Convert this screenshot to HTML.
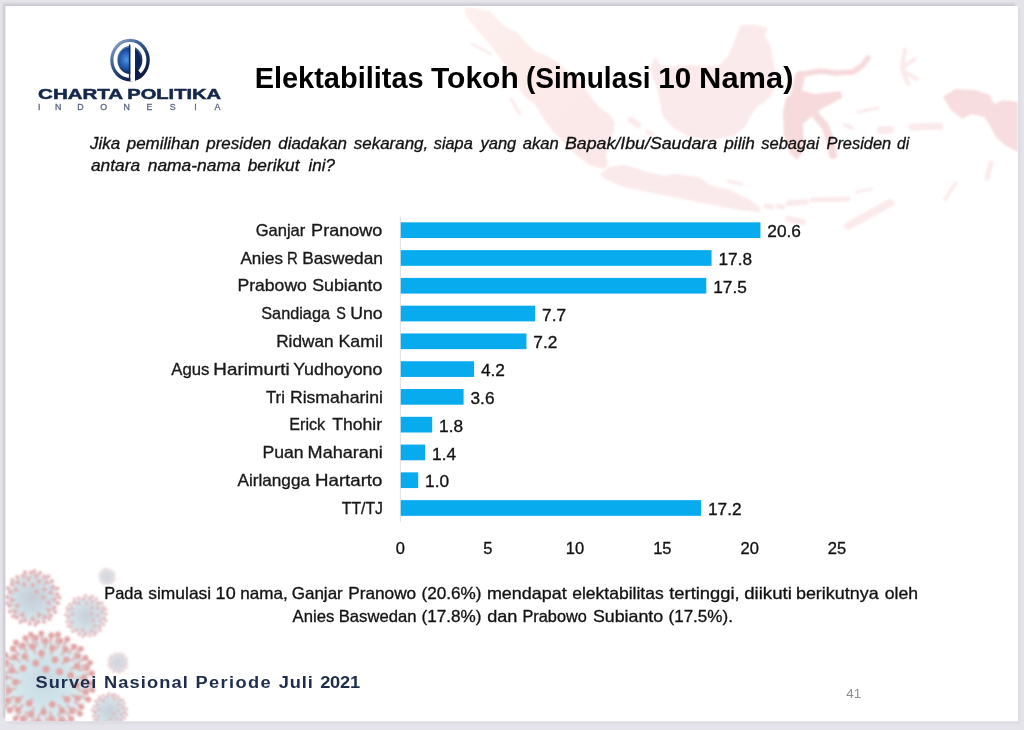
<!DOCTYPE html>
<html lang="id">
<head>
<meta charset="utf-8">
<title>Elektabilitas Tokoh (Simulasi 10 Nama)</title>
<style>
html,body{margin:0;padding:0;background:#e5e4ea;overflow:hidden}
svg{display:block;font-family:"Liberation Sans", sans-serif}
.t{stroke:#151515;stroke-width:0.32px}
</style>
</head>
<body>
<svg width="1024" height="730" viewBox="0 0 1024 730">
<defs>
<filter id="b1" x="-5%" y="-5%" width="110%" height="110%"><feGaussianBlur stdDeviation="0.9"/></filter>
<filter id="b2" x="-5%" y="-5%" width="110%" height="110%"><feGaussianBlur stdDeviation="0.8"/></filter>
<filter id="b3" x="-20%" y="-20%" width="140%" height="140%"><feGaussianBlur stdDeviation="0.85"/></filter>
<linearGradient id="lg1" x1="0.1" y1="0" x2="0.85" y2="1"><stop offset="0" stop-color="#9db4cf"/><stop offset="0.35" stop-color="#3f6296"/><stop offset="0.7" stop-color="#14295a"/><stop offset="1" stop-color="#091534"/></linearGradient>
<radialGradient id="lg2" cx="0.38" cy="0.5" r="0.62"><stop offset="0" stop-color="#4f95e6"/><stop offset="0.55" stop-color="#1f58ae"/><stop offset="1" stop-color="#0c2660"/></radialGradient>
<radialGradient id="vg1" cx="0.5" cy="0.5" r="0.5"><stop offset="0" stop-color="#bcc3cf"/><stop offset="0.55" stop-color="#c3d3dd"/><stop offset="1" stop-color="#cfe6ec"/></radialGradient>
<radialGradient id="vg2" cx="0.5" cy="0.5" r="0.5"><stop offset="0" stop-color="#c2d3de"/><stop offset="0.6" stop-color="#cbe2ea"/><stop offset="1" stop-color="#d6ebf0"/></radialGradient>
<linearGradient id="sumg" gradientUnits="userSpaceOnUse" x1="465" y1="10" x2="605" y2="165"><stop offset="0" stop-color="#fdf1ee"/><stop offset="0.45" stop-color="#fcebe9"/><stop offset="1" stop-color="#fbe7e8"/></linearGradient>
<clipPath id="slide"><rect x="5.4" y="6" width="1012.7" height="715.2"/></clipPath>
</defs>
<rect x="0" y="0" width="1024" height="730" fill="#e5e4ea"/>
<rect x="8" y="8" width="1012.6" height="716" fill="#dcdbe1" filter="url(#b1)"/>
<rect x="3.1" y="3.3" width="1012" height="714" fill="#cbcad0" filter="url(#b1)"/>
<rect x="5.4" y="6" width="1012.7" height="715.2" fill="#fff"/>
<g id="map" fill="#fbeaeb" filter="url(#b2)" clip-path="url(#slide)">
<path d="M464,8 L475,8 L490,11.5 L498,20 L505,26.5 L518,33 L526,43 L535,51.5 L548,56.5 L558,63 L568,71.5 L578,80 L586,90 L593,100 L600,108 L610,115 L615,123 L613,133 L608,145 L606,156 L608,165 L603,169 L590,165 L578,156.5 L566,145 L553,131.5 L543,118 L535,104 L526,98 L518,86.5 L511.5,75 L505,65 L498,55 L490,45 L481.5,35 L473,25 L466.5,16.5Z" fill="url(#sumg)"/>
<path d="M472,44 L491,54" fill="none" stroke="#fbeaeb" stroke-width="2.5" stroke-linecap="round" stroke-linejoin="round"/>
<path d="M497,78 L503,88" fill="none" stroke="#fbeaeb" stroke-width="2.5" stroke-linecap="round" stroke-linejoin="round"/>
<path d="M511,99 L520,114" fill="none" stroke="#fbeaeb" stroke-width="3" stroke-linecap="round" stroke-linejoin="round"/>
<path d="M631,120 L638,125" fill="none" stroke="#fbeaeb" stroke-width="6" stroke-linecap="round" stroke-linejoin="round"/>
<path d="M648,132 L652,134" fill="none" stroke="#fbeaeb" stroke-width="4" stroke-linecap="round" stroke-linejoin="round"/>
<path d="M600,175 L607.5,167.5 L625,165 L650,172.5 L665,176 L675,173.75 L700,177.5 L710,185 L730,190 L750,200 L760,207.5 L760,212.5 L740,210 L725,207.5 L700,202.5 L675,197.5 L650,192.5 L625,187.5 L607.5,180Z"/>
<path d="M728,181 L742,184" fill="none" stroke="#fbeaeb" stroke-width="3" stroke-linecap="round" stroke-linejoin="round"/>
<path d="M766,206 L772,207" fill="none" stroke="#fbeaeb" stroke-width="5" stroke-linecap="round" stroke-linejoin="round"/>
<path d="M778,206 L783,207" fill="none" stroke="#fbeaeb" stroke-width="5" stroke-linecap="round" stroke-linejoin="round"/>
<path d="M789,203 L806,202" fill="none" stroke="#fbeaeb" stroke-width="6" stroke-linecap="round" stroke-linejoin="round"/>
<path d="M812,200 L848,199" fill="none" stroke="#fbeaeb" stroke-width="5" stroke-linecap="round" stroke-linejoin="round"/>
<path d="M788,219 L803,222" fill="none" stroke="#fbeaeb" stroke-width="6" stroke-linecap="round" stroke-linejoin="round"/>
<path d="M890,203 L848,226" fill="none" stroke="#fbeaeb" stroke-width="8" stroke-linecap="round" stroke-linejoin="round"/>
<path d="M856,192 L872,189" fill="none" stroke="#fbeaeb" stroke-width="2.5" stroke-linecap="round" stroke-linejoin="round"/>
<path d="M655,56.5 L650,70 L656.5,86.5 L660,101 L662,115 L673,128 L688,136 L705,140 L720,139 L735,135 L745,127 L749.5,118 L756,108 L769.5,98 L776,85 L776,71.5 L773,61.5 L771,48 L764.5,35 L768,28 L756,25 L741,25 L738,31.5 L733,45 L728,56.5 L719.5,65 L706.5,66.5 L690,65 L673,66.5 L660,65Z"/>
<path d="M799,75 L820,71 L836,73 L853,72 L863,65 L868,58" fill="none" stroke="#f7dadc" stroke-width="5.5" stroke-linecap="round" stroke-linejoin="round"/>
<path d="M800,76 L795,98" fill="none" stroke="#f7dadc" stroke-width="10" stroke-linecap="round" stroke-linejoin="round"/>
<path d="M786,98 L800,90 L815,94 L841,91 L842,98 L823,108 L812,116 L803,124 L804,150 L797,160 L789,152 L784,135 L783,112Z" fill="#f7dadc"/>
<path d="M813,112 L825,126 L830,140 L833,155" fill="none" stroke="#f7dadc" stroke-width="8" stroke-linecap="round" stroke-linejoin="round"/>
<path d="M905,50 L902,68 L908,84" fill="none" stroke="#fbeaeb" stroke-width="4.5" stroke-linecap="round" stroke-linejoin="round"/>
<path d="M903,67 L915,59" fill="none" stroke="#fbeaeb" stroke-width="4" stroke-linecap="round" stroke-linejoin="round"/>
<path d="M905,72 L917,79" fill="none" stroke="#fbeaeb" stroke-width="4" stroke-linecap="round" stroke-linejoin="round"/>
<path d="M881,130 L890,130" fill="none" stroke="#fbeaeb" stroke-width="8" stroke-linecap="round" stroke-linejoin="round"/>
<path d="M912,127 L940,126" fill="none" stroke="#fbeaeb" stroke-width="7" stroke-linecap="round" stroke-linejoin="round"/>
<path d="M858,112 L878,108" fill="none" stroke="#fbeaeb" stroke-width="3" stroke-linecap="round" stroke-linejoin="round"/>
<path d="M845,125 L852,128" fill="none" stroke="#fbeaeb" stroke-width="4" stroke-linecap="round" stroke-linejoin="round"/>
<path d="M943,97 L955,89 L975,90 L990,95 L994,104 L1003,100 L1018,102 L1018,152 L1006,146 L996,137 L989,124 L984,117 L972,114 L962,119 L951,110Z" fill="#f7dddf"/>
<path d="M956,183 L945,199" fill="none" stroke="#fbeaeb" stroke-width="3.5" stroke-linecap="round" stroke-linejoin="round"/>
<path d="M991,163 L987,178" fill="none" stroke="#fbeaeb" stroke-width="5" stroke-linecap="round" stroke-linejoin="round"/>
</g>
<g id="virus" clip-path="url(#slide)" filter="url(#b3)">
<g opacity="0.88">
<circle cx="45" cy="681" r="46.5" fill="#e3e4ea" opacity="0.55"/>
<circle cx="45" cy="681" r="40.0" fill="url(#vg2)"/>
<circle cx="46.0" cy="669.3" r="3.6" fill="#dd9a99"/>
<circle cx="59.6" cy="671.7" r="3.6" fill="#dd9a99"/>
<circle cx="35.8" cy="663.2" r="3.6" fill="#dd9a99"/>
<circle cx="55.0" cy="659.7" r="3.5" fill="#dd9a99"/>
<circle cx="52.3" cy="704.4" r="3.5" fill="#dd9a99"/>
<circle cx="23.0" cy="668.2" r="3.5" fill="#dd9a99"/>
<circle cx="70.8" cy="675.3" r="3.5" fill="#dd9a99"/>
<path d="M32.1,699.4 L29.3,703.3" stroke="#d6b5b8" stroke-width="3.1" stroke-linecap="round"/>
<circle cx="29.3" cy="703.3" r="3.5" fill="#dd9a99"/>
<path d="M42.0,658.0 L41.4,653.2" stroke="#d6b5b8" stroke-width="3.1" stroke-linecap="round"/>
<circle cx="41.4" cy="653.2" r="3.5" fill="#dd9a99"/>
<path d="M63.2,696.3 L67.1,699.6" stroke="#d6b5b8" stroke-width="3.1" stroke-linecap="round"/>
<circle cx="67.1" cy="699.6" r="3.5" fill="#dd9a99"/>
<path d="M20.6,682.0 L15.4,682.2" stroke="#d6b5b8" stroke-width="3.1" stroke-linecap="round"/>
<circle cx="15.4" cy="682.2" r="3.5" fill="#dd9a99"/>
<path d="M62.8,663.3 L66.5,659.6" stroke="#d6b5b8" stroke-width="3.1" stroke-linecap="round"/>
<circle cx="66.5" cy="659.6" r="3.4" fill="#dd9a99"/>
<path d="M43.8,706.6 L43.6,712.0" stroke="#d6b5b8" stroke-width="3.1" stroke-linecap="round"/>
<circle cx="43.6" cy="712.0" r="3.4" fill="#dd9a99"/>
<path d="M28.2,660.9 L24.7,656.6" stroke="#d6b5b8" stroke-width="3.1" stroke-linecap="round"/>
<circle cx="24.7" cy="656.6" r="3.4" fill="#dd9a99"/>
<path d="M71.5,684.6 L77.1,685.3" stroke="#d6b5b8" stroke-width="3.1" stroke-linecap="round"/>
<circle cx="77.1" cy="685.3" r="3.4" fill="#dd9a99"/>
<path d="M22.6,696.6 L17.9,699.9" stroke="#d6b5b8" stroke-width="3.1" stroke-linecap="round"/>
<circle cx="17.9" cy="699.9" r="3.4" fill="#dd9a99"/>
<path d="M51.1,653.9 L52.4,648.2" stroke="#d6b5b8" stroke-width="3.1" stroke-linecap="round"/>
<circle cx="52.4" cy="648.2" r="3.4" fill="#dd9a99"/>
<path d="M59.0,705.5 L62.0,710.7" stroke="#d6b5b8" stroke-width="3.1" stroke-linecap="round"/>
<circle cx="62.0" cy="710.7" r="3.4" fill="#dd9a99"/>
<path d="M17.7,672.3 L11.8,670.4" stroke="#d6b5b8" stroke-width="3.0" stroke-linecap="round"/>
<circle cx="11.8" cy="670.4" r="3.4" fill="#dd9a99"/>
<path d="M71.5,668.8 L77.1,666.2" stroke="#d6b5b8" stroke-width="3.0" stroke-linecap="round"/>
<circle cx="77.1" cy="666.2" r="3.4" fill="#dd9a99"/>
<path d="M33.6,708.3 L31.1,714.1" stroke="#d6b5b8" stroke-width="3.0" stroke-linecap="round"/>
<circle cx="31.1" cy="714.1" r="3.4" fill="#dd9a99"/>
<path d="M34.8,652.7 L32.7,646.7" stroke="#d6b5b8" stroke-width="3.0" stroke-linecap="round"/>
<circle cx="32.7" cy="646.7" r="3.4" fill="#dd9a99"/>
<path d="M71.9,695.2 L77.7,698.2" stroke="#d6b5b8" stroke-width="3.0" stroke-linecap="round"/>
<circle cx="77.7" cy="698.2" r="3.3" fill="#dd9a99"/>
<path d="M15.2,688.9 L8.8,690.5" stroke="#d6b5b8" stroke-width="3.0" stroke-linecap="round"/>
<circle cx="8.8" cy="690.5" r="3.3" fill="#dd9a99"/>
<path d="M61.9,654.7 L65.5,649.2" stroke="#d6b5b8" stroke-width="3.0" stroke-linecap="round"/>
<circle cx="65.5" cy="649.2" r="3.3" fill="#dd9a99"/>
<path d="M50.4,712.1 L51.5,718.8" stroke="#d6b5b8" stroke-width="3.0" stroke-linecap="round"/>
<circle cx="51.5" cy="718.8" r="3.3" fill="#dd9a99"/>
<path d="M19.7,661.4 L14.4,657.3" stroke="#d6b5b8" stroke-width="3.0" stroke-linecap="round"/>
<circle cx="14.4" cy="657.3" r="3.3" fill="#dd9a99"/>
<path d="M77.2,678.3 L84.1,677.8" stroke="#d6b5b8" stroke-width="3.0" stroke-linecap="round"/>
<circle cx="84.1" cy="677.8" r="3.3" fill="#dd9a99"/>
<path d="M22.8,705.0 L18.1,710.1" stroke="#d6b5b8" stroke-width="3.0" stroke-linecap="round"/>
<circle cx="18.1" cy="710.1" r="3.3" fill="#dd9a99"/>
<path d="M45.2,648.0 L45.2,641.0" stroke="#d6b5b8" stroke-width="2.9" stroke-linecap="round"/>
<circle cx="45.2" cy="641.0" r="3.3" fill="#dd9a99"/>
<path d="M67.4,705.7 L72.1,710.9" stroke="#d6b5b8" stroke-width="2.9" stroke-linecap="round"/>
<circle cx="72.1" cy="710.9" r="3.3" fill="#dd9a99"/>
<path d="M11.5,677.9 L4.4,677.2" stroke="#d6b5b8" stroke-width="2.9" stroke-linecap="round"/>
<circle cx="4.4" cy="677.2" r="3.3" fill="#dd9a99"/>
<path d="M72.0,660.5 L77.8,656.1" stroke="#d6b5b8" stroke-width="2.9" stroke-linecap="round"/>
<circle cx="77.8" cy="656.1" r="3.2" fill="#dd9a99"/>
<path d="M38.9,714.7 L37.6,721.8" stroke="#d6b5b8" stroke-width="2.9" stroke-linecap="round"/>
<circle cx="37.6" cy="721.8" r="3.2" fill="#dd9a99"/>
<path d="M26.6,651.8 L22.7,645.6" stroke="#d6b5b8" stroke-width="2.9" stroke-linecap="round"/>
<circle cx="22.7" cy="645.6" r="3.2" fill="#dd9a99"/>
<path d="M78.5,690.2 L85.7,692.1" stroke="#d6b5b8" stroke-width="2.9" stroke-linecap="round"/>
<circle cx="85.7" cy="692.1" r="3.2" fill="#dd9a99"/>
<path d="M13.8,697.0 L7.2,700.4" stroke="#d6b5b8" stroke-width="2.9" stroke-linecap="round"/>
<circle cx="7.2" cy="700.4" r="3.2" fill="#dd9a99"/>
<path d="M57.3,647.9 L59.9,640.9" stroke="#d6b5b8" stroke-width="2.9" stroke-linecap="round"/>
<circle cx="59.9" cy="640.9" r="3.2" fill="#dd9a99"/>
<path d="M58.4,713.9 L61.3,720.9" stroke="#d6b5b8" stroke-width="2.9" stroke-linecap="round"/>
<circle cx="61.3" cy="720.9" r="3.2" fill="#dd9a99"/>
<path d="M12.7,665.7 L5.8,662.4" stroke="#d6b5b8" stroke-width="2.9" stroke-linecap="round"/>
<circle cx="5.8" cy="662.4" r="3.2" fill="#dd9a99"/>
<path d="M79.4,670.4 L86.7,668.1" stroke="#d6b5b8" stroke-width="2.8" stroke-linecap="round"/>
<circle cx="86.7" cy="668.1" r="3.2" fill="#dd9a99"/>
<path d="M26.7,712.3 L22.8,718.9" stroke="#d6b5b8" stroke-width="2.8" stroke-linecap="round"/>
<circle cx="22.8" cy="718.9" r="3.2" fill="#dd9a99"/>
<path d="M37.3,645.3 L35.7,637.8" stroke="#d6b5b8" stroke-width="2.8" stroke-linecap="round"/>
<circle cx="35.7" cy="637.8" r="3.1" fill="#dd9a99"/>
<path d="M74.9,702.2 L81.3,706.8" stroke="#d6b5b8" stroke-width="2.8" stroke-linecap="round"/>
<circle cx="81.3" cy="706.8" r="3.1" fill="#dd9a99"/>
<path d="M8.4,685.6 L0.6,686.5" stroke="#d6b5b8" stroke-width="2.8" stroke-linecap="round"/>
<circle cx="0.6" cy="686.5" r="3.1" fill="#dd9a99"/>
<path d="M69.0,652.8 L74.1,646.8" stroke="#d6b5b8" stroke-width="2.8" stroke-linecap="round"/>
<circle cx="74.1" cy="646.8" r="3.1" fill="#dd9a99"/>
<path d="M46.4,718.2 L46.6,726.2" stroke="#d6b5b8" stroke-width="2.8" stroke-linecap="round"/>
<circle cx="46.6" cy="726.2" r="3.1" fill="#dd9a99"/>
<path d="M18.7,654.3 L13.1,648.7" stroke="#d6b5b8" stroke-width="2.8" stroke-linecap="round"/>
<circle cx="13.1" cy="648.7" r="3.1" fill="#dd9a99"/>
<path d="M82.6,682.9 L90.6,683.3" stroke="#d6b5b8" stroke-width="2.8" stroke-linecap="round"/>
<circle cx="90.6" cy="683.3" r="3.1" fill="#dd9a99"/>
<path d="M15.9,705.1 L9.7,710.2" stroke="#d6b5b8" stroke-width="2.8" stroke-linecap="round"/>
<circle cx="9.7" cy="710.2" r="3.1" fill="#dd9a99"/>
<path d="M50.2,643.4 L51.4,635.4" stroke="#d6b5b8" stroke-width="2.8" stroke-linecap="round"/>
<circle cx="51.4" cy="635.4" r="3.1" fill="#dd9a99"/>
<path d="M66.6,712.4 L71.2,719.1" stroke="#d6b5b8" stroke-width="2.7" stroke-linecap="round"/>
<circle cx="71.2" cy="719.1" r="3.1" fill="#dd9a99"/>
<path d="M7.7,672.4 L-0.2,670.6" stroke="#d6b5b8" stroke-width="2.7" stroke-linecap="round"/>
<circle cx="-0.2" cy="670.6" r="3.0" fill="#dd9a99"/>
<path d="M78.4,662.1 L85.5,658.0" stroke="#d6b5b8" stroke-width="2.7" stroke-linecap="round"/>
<circle cx="85.5" cy="658.0" r="3.0" fill="#dd9a99"/>
<path d="M33.1,717.7 L30.6,725.4" stroke="#d6b5b8" stroke-width="2.7" stroke-linecap="round"/>
<circle cx="30.6" cy="725.4" r="3.0" fill="#dd9a99"/>
<path d="M29.0,645.8 L25.5,638.3" stroke="#d6b5b8" stroke-width="2.7" stroke-linecap="round"/>
<circle cx="25.5" cy="638.3" r="3.0" fill="#dd9a99"/>
<path d="M80.7,696.1 L88.3,699.4" stroke="#d6b5b8" stroke-width="2.7" stroke-linecap="round"/>
<circle cx="88.3" cy="699.4" r="3.0" fill="#dd9a99"/>
<path d="M8.3,694.0 L0.5,696.7" stroke="#d6b5b8" stroke-width="2.7" stroke-linecap="round"/>
<circle cx="0.5" cy="696.7" r="3.0" fill="#dd9a99"/>
<path d="M63.3,646.6 L67.2,639.2" stroke="#d6b5b8" stroke-width="2.7" stroke-linecap="round"/>
<circle cx="67.2" cy="639.2" r="3.0" fill="#dd9a99"/>
<path d="M54.8,718.9 L56.9,726.9" stroke="#d6b5b8" stroke-width="2.7" stroke-linecap="round"/>
<circle cx="56.9" cy="726.9" r="3.0" fill="#dd9a99"/>
<path d="M12.1,659.6 L5.1,655.1" stroke="#d6b5b8" stroke-width="2.7" stroke-linecap="round"/>
<circle cx="5.1" cy="655.1" r="3.0" fill="#dd9a99"/>
<path d="M83.8,674.5 L92.0,673.2" stroke="#d6b5b8" stroke-width="2.7" stroke-linecap="round"/>
<circle cx="92.0" cy="673.2" r="3.0" fill="#dd9a99"/>
<path d="M20.7,712.0 L15.6,718.6" stroke="#d6b5b8" stroke-width="2.7" stroke-linecap="round"/>
<circle cx="15.6" cy="718.6" r="2.9" fill="#dd9a99"/>
<path d="M41.9,641.6 L41.3,633.3" stroke="#d6b5b8" stroke-width="2.6" stroke-linecap="round"/>
<circle cx="41.3" cy="633.3" r="2.9" fill="#dd9a99"/>
<path d="M73.9,708.0 L80.0,713.7" stroke="#d6b5b8" stroke-width="2.6" stroke-linecap="round"/>
<circle cx="80.0" cy="713.7" r="2.9" fill="#dd9a99"/>
<path d="M5.4,680.6 L-3.0,680.5" stroke="#d6b5b8" stroke-width="2.6" stroke-linecap="round"/>
<circle cx="-3.0" cy="680.5" r="2.9" fill="#dd9a99"/>
<path d="M74.5,654.5 L80.8,648.8" stroke="#d6b5b8" stroke-width="2.6" stroke-linecap="round"/>
<circle cx="80.8" cy="648.8" r="2.9" fill="#dd9a99"/>
<path d="M41.1,720.6 L40.3,729.0" stroke="#d6b5b8" stroke-width="2.6" stroke-linecap="round"/>
<circle cx="40.3" cy="729.0" r="2.9" fill="#dd9a99"/>
<path d="M21.1,649.2 L16.0,642.4" stroke="#d6b5b8" stroke-width="2.6" stroke-linecap="round"/>
<circle cx="16.0" cy="642.4" r="2.9" fill="#dd9a99"/>
<path d="M84.2,688.3 L92.5,689.9" stroke="#d6b5b8" stroke-width="2.6" stroke-linecap="round"/>
<circle cx="92.5" cy="689.9" r="2.9" fill="#dd9a99"/>
<path d="M11.1,702.1 L3.9,706.6" stroke="#d6b5b8" stroke-width="2.6" stroke-linecap="round"/>
<circle cx="3.9" cy="706.6" r="2.9" fill="#dd9a99"/>
<path d="M55.7,642.6 L58.0,634.4" stroke="#d6b5b8" stroke-width="2.6" stroke-linecap="round"/>
<circle cx="58.0" cy="634.4" r="2.9" fill="#dd9a99"/>
<path d="M63.1,716.6 L66.9,724.2" stroke="#d6b5b8" stroke-width="2.6" stroke-linecap="round"/>
<circle cx="66.9" cy="724.2" r="2.8" fill="#dd9a99"/>
<path d="M7.6,666.9 L-0.4,663.9" stroke="#d6b5b8" stroke-width="2.6" stroke-linecap="round"/>
<circle cx="-0.4" cy="663.9" r="2.8" fill="#dd9a99"/>
<path d="M82.1,666.1 L90.0,662.9" stroke="#d6b5b8" stroke-width="2.5" stroke-linecap="round"/>
<circle cx="90.0" cy="662.9" r="2.8" fill="#dd9a99"/>
<path d="M27.7,717.1 L24.0,724.7" stroke="#d6b5b8" stroke-width="2.5" stroke-linecap="round"/>
<circle cx="24.0" cy="724.7" r="2.8" fill="#dd9a99"/>
<path d="M33.4,642.7 L30.9,634.6" stroke="#d6b5b8" stroke-width="2.5" stroke-linecap="round"/>
<circle cx="30.9" cy="634.6" r="2.8" fill="#dd9a99"/>
</g>
<g opacity="0.85">
<circle cx="32.5" cy="598" r="26.0" fill="#ead9dd" opacity="0.55"/>
<circle cx="32.5" cy="598" r="22.4" fill="url(#vg1)"/>
<circle cx="36.7" cy="591.7" r="2.3" fill="#dba0a4"/>
<circle cx="43.5" cy="597.3" r="2.3" fill="#dba0a4"/>
<circle cx="32.8" cy="585.2" r="2.2" fill="#dba0a4"/>
<circle cx="44.5" cy="589.2" r="2.2" fill="#dba0a4"/>
<path d="M25.6,586.6 L24.1,584.2" stroke="#cdbcc4" stroke-width="2.0" stroke-linecap="round"/>
<circle cx="24.1" cy="584.2" r="2.2" fill="#dba0a4"/>
<path d="M45.7,601.9 L48.5,602.7" stroke="#cdbcc4" stroke-width="2.0" stroke-linecap="round"/>
<circle cx="48.5" cy="602.7" r="2.2" fill="#dba0a4"/>
<path d="M19.8,604.3 L17.1,605.6" stroke="#cdbcc4" stroke-width="2.0" stroke-linecap="round"/>
<circle cx="17.1" cy="605.6" r="2.2" fill="#dba0a4"/>
<path d="M37.8,584.4 L38.9,581.5" stroke="#cdbcc4" stroke-width="2.0" stroke-linecap="round"/>
<circle cx="38.9" cy="581.5" r="2.2" fill="#dba0a4"/>
<path d="M37.9,612.0 L39.1,615.0" stroke="#cdbcc4" stroke-width="2.0" stroke-linecap="round"/>
<circle cx="39.1" cy="615.0" r="2.2" fill="#dba0a4"/>
<path d="M18.7,591.2 L15.8,589.7" stroke="#cdbcc4" stroke-width="1.9" stroke-linecap="round"/>
<circle cx="15.8" cy="589.7" r="2.2" fill="#dba0a4"/>
<path d="M47.6,593.6 L50.8,592.7" stroke="#cdbcc4" stroke-width="1.9" stroke-linecap="round"/>
<circle cx="50.8" cy="592.7" r="2.2" fill="#dba0a4"/>
<path d="M24.1,611.8 L22.4,614.7" stroke="#cdbcc4" stroke-width="1.9" stroke-linecap="round"/>
<circle cx="22.4" cy="614.7" r="2.2" fill="#dba0a4"/>
<path d="M29.3,581.9 L28.6,578.5" stroke="#cdbcc4" stroke-width="1.9" stroke-linecap="round"/>
<circle cx="28.6" cy="578.5" r="2.1" fill="#dba0a4"/>
<path d="M46.0,607.9 L48.9,610.0" stroke="#cdbcc4" stroke-width="1.9" stroke-linecap="round"/>
<circle cx="48.9" cy="610.0" r="2.1" fill="#dba0a4"/>
<path d="M15.5,599.8 L11.9,600.2" stroke="#cdbcc4" stroke-width="1.9" stroke-linecap="round"/>
<circle cx="11.9" cy="600.2" r="2.1" fill="#dba0a4"/>
<path d="M44.0,585.0 L46.4,582.2" stroke="#cdbcc4" stroke-width="1.9" stroke-linecap="round"/>
<circle cx="46.4" cy="582.2" r="2.1" fill="#dba0a4"/>
<path d="M32.9,615.6 L32.9,619.4" stroke="#cdbcc4" stroke-width="1.9" stroke-linecap="round"/>
<circle cx="32.9" cy="619.4" r="2.1" fill="#dba0a4"/>
<path d="M20.1,585.1 L17.5,582.3" stroke="#cdbcc4" stroke-width="1.9" stroke-linecap="round"/>
<circle cx="17.5" cy="582.3" r="2.1" fill="#dba0a4"/>
<path d="M50.6,599.2 L54.5,599.5" stroke="#cdbcc4" stroke-width="1.9" stroke-linecap="round"/>
<circle cx="54.5" cy="599.5" r="2.1" fill="#dba0a4"/>
<path d="M18.1,609.5 L15.1,611.9" stroke="#cdbcc4" stroke-width="1.9" stroke-linecap="round"/>
<circle cx="15.1" cy="611.9" r="2.1" fill="#dba0a4"/>
<path d="M35.4,579.6 L36.0,575.7" stroke="#cdbcc4" stroke-width="1.9" stroke-linecap="round"/>
<circle cx="36.0" cy="575.7" r="2.1" fill="#dba0a4"/>
<path d="M42.9,613.7 L45.2,617.0" stroke="#cdbcc4" stroke-width="1.9" stroke-linecap="round"/>
<circle cx="45.2" cy="617.0" r="2.1" fill="#dba0a4"/>
<path d="M14.0,593.4 L10.0,592.4" stroke="#cdbcc4" stroke-width="1.9" stroke-linecap="round"/>
<circle cx="10.0" cy="592.4" r="2.1" fill="#dba0a4"/>
<path d="M49.4,588.8 L53.0,586.8" stroke="#cdbcc4" stroke-width="1.8" stroke-linecap="round"/>
<circle cx="53.0" cy="586.8" r="2.1" fill="#dba0a4"/>
<path d="M26.2,616.4 L24.8,620.4" stroke="#cdbcc4" stroke-width="1.8" stroke-linecap="round"/>
<circle cx="24.8" cy="620.4" r="2.0" fill="#dba0a4"/>
<path d="M24.6,580.0 L22.9,576.1" stroke="#cdbcc4" stroke-width="1.8" stroke-linecap="round"/>
<circle cx="22.9" cy="576.1" r="2.0" fill="#dba0a4"/>
<path d="M50.7,606.1 L54.5,607.8" stroke="#cdbcc4" stroke-width="1.8" stroke-linecap="round"/>
<circle cx="54.5" cy="607.8" r="2.0" fill="#dba0a4"/>
<path d="M13.5,604.4 L9.4,605.7" stroke="#cdbcc4" stroke-width="1.8" stroke-linecap="round"/>
<circle cx="9.4" cy="605.7" r="2.0" fill="#dba0a4"/>
<path d="M42.3,580.3 L44.4,576.5" stroke="#cdbcc4" stroke-width="1.8" stroke-linecap="round"/>
<circle cx="44.4" cy="576.5" r="2.0" fill="#dba0a4"/>
<path d="M37.3,617.8 L38.3,622.0" stroke="#cdbcc4" stroke-width="1.8" stroke-linecap="round"/>
<circle cx="38.3" cy="622.0" r="2.0" fill="#dba0a4"/>
<path d="M15.5,586.5 L11.8,584.1" stroke="#cdbcc4" stroke-width="1.8" stroke-linecap="round"/>
<circle cx="11.8" cy="584.1" r="2.0" fill="#dba0a4"/>
<path d="M53.0,594.9 L57.3,594.3" stroke="#cdbcc4" stroke-width="1.8" stroke-linecap="round"/>
<circle cx="57.3" cy="594.3" r="2.0" fill="#dba0a4"/>
<path d="M19.4,614.2 L16.6,617.6" stroke="#cdbcc4" stroke-width="1.8" stroke-linecap="round"/>
<circle cx="16.6" cy="617.6" r="2.0" fill="#dba0a4"/>
<path d="M31.2,577.1 L30.9,572.6" stroke="#cdbcc4" stroke-width="1.8" stroke-linecap="round"/>
<circle cx="30.9" cy="572.6" r="2.0" fill="#dba0a4"/>
<path d="M47.7,612.6 L50.9,615.8" stroke="#cdbcc4" stroke-width="1.8" stroke-linecap="round"/>
<circle cx="50.9" cy="615.8" r="2.0" fill="#dba0a4"/>
<path d="M11.3,597.5 L6.8,597.3" stroke="#cdbcc4" stroke-width="1.8" stroke-linecap="round"/>
<circle cx="6.8" cy="597.3" r="2.0" fill="#dba0a4"/>
<path d="M48.6,584.0 L52.0,581.0" stroke="#cdbcc4" stroke-width="1.8" stroke-linecap="round"/>
<circle cx="52.0" cy="581.0" r="1.9" fill="#dba0a4"/>
<path d="M30.1,619.3 L29.6,623.8" stroke="#cdbcc4" stroke-width="1.7" stroke-linecap="round"/>
<circle cx="29.6" cy="623.8" r="1.9" fill="#dba0a4"/>
<path d="M19.8,580.6 L17.1,576.9" stroke="#cdbcc4" stroke-width="1.7" stroke-linecap="round"/>
<circle cx="17.1" cy="576.9" r="1.9" fill="#dba0a4"/>
<path d="M53.7,602.3 L58.2,603.2" stroke="#cdbcc4" stroke-width="1.7" stroke-linecap="round"/>
<circle cx="58.2" cy="603.2" r="1.9" fill="#dba0a4"/>
<path d="M13.9,609.2 L9.9,611.6" stroke="#cdbcc4" stroke-width="1.7" stroke-linecap="round"/>
<circle cx="9.9" cy="611.6" r="1.9" fill="#dba0a4"/>
<path d="M38.7,577.1 L40.0,572.6" stroke="#cdbcc4" stroke-width="1.7" stroke-linecap="round"/>
<circle cx="40.0" cy="572.6" r="1.9" fill="#dba0a4"/>
<path d="M42.1,617.7 L44.1,621.9" stroke="#cdbcc4" stroke-width="1.7" stroke-linecap="round"/>
<circle cx="44.1" cy="621.9" r="1.9" fill="#dba0a4"/>
<path d="M12.1,589.9 L7.7,588.2" stroke="#cdbcc4" stroke-width="1.7" stroke-linecap="round"/>
<circle cx="7.7" cy="588.2" r="1.9" fill="#dba0a4"/>
<path d="M53.1,590.1 L57.5,588.4" stroke="#cdbcc4" stroke-width="1.7" stroke-linecap="round"/>
<circle cx="57.5" cy="588.4" r="1.9" fill="#dba0a4"/>
<path d="M22.6,617.8 L20.5,622.0" stroke="#cdbcc4" stroke-width="1.7" stroke-linecap="round"/>
<circle cx="20.5" cy="622.0" r="1.9" fill="#dba0a4"/>
<path d="M26.4,576.7 L25.1,572.2" stroke="#cdbcc4" stroke-width="1.7" stroke-linecap="round"/>
<circle cx="25.1" cy="572.2" r="1.9" fill="#dba0a4"/>
<path d="M51.4,609.6 L55.4,612.1" stroke="#cdbcc4" stroke-width="1.7" stroke-linecap="round"/>
<circle cx="55.4" cy="612.1" r="1.9" fill="#dba0a4"/>
<path d="M10.7,602.2 L6.0,603.1" stroke="#cdbcc4" stroke-width="1.7" stroke-linecap="round"/>
<circle cx="6.0" cy="603.1" r="1.8" fill="#dba0a4"/>
<path d="M45.8,580.1 L48.6,576.3" stroke="#cdbcc4" stroke-width="1.7" stroke-linecap="round"/>
<circle cx="48.6" cy="576.3" r="1.8" fill="#dba0a4"/>
<path d="M34.8,620.2 L35.3,624.9" stroke="#cdbcc4" stroke-width="1.6" stroke-linecap="round"/>
<circle cx="35.3" cy="624.9" r="1.8" fill="#dba0a4"/>
<path d="M15.8,583.2 L12.2,580.0" stroke="#cdbcc4" stroke-width="1.6" stroke-linecap="round"/>
<circle cx="12.2" cy="580.0" r="1.8" fill="#dba0a4"/>
<path d="M54.9,597.7 L59.6,597.6" stroke="#cdbcc4" stroke-width="1.6" stroke-linecap="round"/>
<circle cx="59.6" cy="597.6" r="1.8" fill="#dba0a4"/>
<path d="M16.2,613.4 L12.8,616.6" stroke="#cdbcc4" stroke-width="1.6" stroke-linecap="round"/>
<circle cx="12.8" cy="616.6" r="1.8" fill="#dba0a4"/>
<path d="M34.1,575.7 L34.5,570.9" stroke="#cdbcc4" stroke-width="1.6" stroke-linecap="round"/>
<circle cx="34.5" cy="570.9" r="1.8" fill="#dba0a4"/>
<path d="M46.4,615.6 L49.4,619.3" stroke="#cdbcc4" stroke-width="1.6" stroke-linecap="round"/>
<circle cx="49.4" cy="619.3" r="1.8" fill="#dba0a4"/>
</g>
<g opacity="0.8">
<circle cx="86" cy="616" r="20.0" fill="#ead9dd" opacity="0.55"/>
<circle cx="86" cy="616" r="17.2" fill="url(#vg1)"/>
<circle cx="91.6" cy="613.7" r="1.8" fill="#dba0a4"/>
<circle cx="93.6" cy="620.5" r="1.7" fill="#dba0a4"/>
<circle cx="92.0" cy="607.7" r="1.7" fill="#dba0a4"/>
<path d="M95.9,615.7 L98.0,615.6" stroke="#cdbcc4" stroke-width="1.5" stroke-linecap="round"/>
<circle cx="98.0" cy="615.6" r="1.7" fill="#dba0a4"/>
<path d="M86.6,605.3 L86.7,603.1" stroke="#cdbcc4" stroke-width="1.5" stroke-linecap="round"/>
<circle cx="86.7" cy="603.1" r="1.7" fill="#dba0a4"/>
<path d="M93.0,624.5 L94.5,626.3" stroke="#cdbcc4" stroke-width="1.5" stroke-linecap="round"/>
<circle cx="94.5" cy="626.3" r="1.7" fill="#dba0a4"/>
<path d="M74.7,614.4 L72.3,614.0" stroke="#cdbcc4" stroke-width="1.5" stroke-linecap="round"/>
<circle cx="72.3" cy="614.0" r="1.7" fill="#dba0a4"/>
<path d="M95.7,609.4 L97.7,608.0" stroke="#cdbcc4" stroke-width="1.5" stroke-linecap="round"/>
<circle cx="97.7" cy="608.0" r="1.7" fill="#dba0a4"/>
<path d="M83.3,627.7 L82.7,630.2" stroke="#cdbcc4" stroke-width="1.5" stroke-linecap="round"/>
<circle cx="82.7" cy="630.2" r="1.7" fill="#dba0a4"/>
<path d="M80.0,605.3 L78.7,603.0" stroke="#cdbcc4" stroke-width="1.5" stroke-linecap="round"/>
<circle cx="78.7" cy="603.0" r="1.7" fill="#dba0a4"/>
<path d="M98.0,619.9 L100.5,620.8" stroke="#cdbcc4" stroke-width="1.5" stroke-linecap="round"/>
<circle cx="100.5" cy="620.8" r="1.6" fill="#dba0a4"/>
<path d="M74.3,621.3 L71.8,622.4" stroke="#cdbcc4" stroke-width="1.5" stroke-linecap="round"/>
<circle cx="71.8" cy="622.4" r="1.6" fill="#dba0a4"/>
<path d="M91.2,603.9 L92.3,601.4" stroke="#cdbcc4" stroke-width="1.5" stroke-linecap="round"/>
<circle cx="92.3" cy="601.4" r="1.6" fill="#dba0a4"/>
<path d="M90.4,628.6 L91.4,631.3" stroke="#cdbcc4" stroke-width="1.5" stroke-linecap="round"/>
<circle cx="91.4" cy="631.3" r="1.6" fill="#dba0a4"/>
<path d="M74.0,609.6 L71.5,608.2" stroke="#cdbcc4" stroke-width="1.5" stroke-linecap="round"/>
<circle cx="71.5" cy="608.2" r="1.6" fill="#dba0a4"/>
<path d="M99.4,612.6 L102.2,611.9" stroke="#cdbcc4" stroke-width="1.4" stroke-linecap="round"/>
<circle cx="102.2" cy="611.9" r="1.6" fill="#dba0a4"/>
<path d="M78.3,627.7 L76.7,630.2" stroke="#cdbcc4" stroke-width="1.4" stroke-linecap="round"/>
<circle cx="76.7" cy="630.2" r="1.6" fill="#dba0a4"/>
<path d="M83.7,601.9 L83.2,599.0" stroke="#cdbcc4" stroke-width="1.4" stroke-linecap="round"/>
<circle cx="83.2" cy="599.0" r="1.6" fill="#dba0a4"/>
<path d="M97.3,624.9 L99.8,626.8" stroke="#cdbcc4" stroke-width="1.4" stroke-linecap="round"/>
<circle cx="99.8" cy="626.8" r="1.6" fill="#dba0a4"/>
<path d="M71.4,617.1 L68.3,617.3" stroke="#cdbcc4" stroke-width="1.4" stroke-linecap="round"/>
<circle cx="68.3" cy="617.3" r="1.6" fill="#dba0a4"/>
<path d="M96.1,605.2 L98.3,602.9" stroke="#cdbcc4" stroke-width="1.4" stroke-linecap="round"/>
<circle cx="98.3" cy="602.9" r="1.6" fill="#dba0a4"/>
<path d="M85.8,631.0 L85.8,634.2" stroke="#cdbcc4" stroke-width="1.4" stroke-linecap="round"/>
<circle cx="85.8" cy="634.2" r="1.6" fill="#dba0a4"/>
<path d="M75.9,604.7 L73.8,602.3" stroke="#cdbcc4" stroke-width="1.4" stroke-linecap="round"/>
<circle cx="73.8" cy="602.3" r="1.6" fill="#dba0a4"/>
<path d="M101.2,617.5 L104.5,617.9" stroke="#cdbcc4" stroke-width="1.4" stroke-linecap="round"/>
<circle cx="104.5" cy="617.9" r="1.6" fill="#dba0a4"/>
<path d="M73.6,625.2 L71.0,627.2" stroke="#cdbcc4" stroke-width="1.4" stroke-linecap="round"/>
<circle cx="71.0" cy="627.2" r="1.5" fill="#dba0a4"/>
<path d="M88.9,600.7 L89.5,597.4" stroke="#cdbcc4" stroke-width="1.4" stroke-linecap="round"/>
<circle cx="89.5" cy="597.4" r="1.5" fill="#dba0a4"/>
<path d="M94.3,629.4 L96.0,632.2" stroke="#cdbcc4" stroke-width="1.4" stroke-linecap="round"/>
<circle cx="96.0" cy="632.2" r="1.5" fill="#dba0a4"/>
<path d="M70.7,611.7 L67.5,610.8" stroke="#cdbcc4" stroke-width="1.4" stroke-linecap="round"/>
<circle cx="67.5" cy="610.8" r="1.5" fill="#dba0a4"/>
<path d="M100.3,608.8 L103.3,607.3" stroke="#cdbcc4" stroke-width="1.4" stroke-linecap="round"/>
<circle cx="103.3" cy="607.3" r="1.5" fill="#dba0a4"/>
<path d="M80.3,631.0 L79.1,634.2" stroke="#cdbcc4" stroke-width="1.4" stroke-linecap="round"/>
<circle cx="79.1" cy="634.2" r="1.5" fill="#dba0a4"/>
<path d="M80.0,600.9 L78.7,597.7" stroke="#cdbcc4" stroke-width="1.4" stroke-linecap="round"/>
<circle cx="78.7" cy="597.7" r="1.5" fill="#dba0a4"/>
<path d="M100.7,623.1 L103.8,624.6" stroke="#cdbcc4" stroke-width="1.3" stroke-linecap="round"/>
<circle cx="103.8" cy="624.6" r="1.5" fill="#dba0a4"/>
<path d="M70.3,620.7 L67.0,621.7" stroke="#cdbcc4" stroke-width="1.3" stroke-linecap="round"/>
<circle cx="67.0" cy="621.7" r="1.5" fill="#dba0a4"/>
<path d="M94.5,601.8 L96.3,598.8" stroke="#cdbcc4" stroke-width="1.3" stroke-linecap="round"/>
<circle cx="96.3" cy="598.8" r="1.5" fill="#dba0a4"/>
<path d="M89.3,632.2 L90.1,635.7" stroke="#cdbcc4" stroke-width="1.3" stroke-linecap="round"/>
<circle cx="90.1" cy="635.7" r="1.5" fill="#dba0a4"/>
<path d="M72.5,606.2 L69.6,604.2" stroke="#cdbcc4" stroke-width="1.3" stroke-linecap="round"/>
<circle cx="69.6" cy="604.2" r="1.5" fill="#dba0a4"/>
<path d="M102.6,614.1 L106.1,613.7" stroke="#cdbcc4" stroke-width="1.3" stroke-linecap="round"/>
<circle cx="106.1" cy="613.7" r="1.5" fill="#dba0a4"/>
<path d="M75.0,628.7 L72.7,631.4" stroke="#cdbcc4" stroke-width="1.3" stroke-linecap="round"/>
<circle cx="72.7" cy="631.4" r="1.5" fill="#dba0a4"/>
<path d="M85.5,599.1 L85.4,595.6" stroke="#cdbcc4" stroke-width="1.3" stroke-linecap="round"/>
<circle cx="85.4" cy="595.6" r="1.5" fill="#dba0a4"/>
<path d="M97.8,628.1 L100.3,630.7" stroke="#cdbcc4" stroke-width="1.3" stroke-linecap="round"/>
<circle cx="100.3" cy="630.7" r="1.4" fill="#dba0a4"/>
<path d="M69.1,615.0 L65.5,614.8" stroke="#cdbcc4" stroke-width="1.3" stroke-linecap="round"/>
<circle cx="65.5" cy="614.8" r="1.4" fill="#dba0a4"/>
<path d="M99.2,605.3 L102.0,603.0" stroke="#cdbcc4" stroke-width="1.3" stroke-linecap="round"/>
<circle cx="102.0" cy="603.0" r="1.4" fill="#dba0a4"/>
<path d="M83.5,632.9 L83.0,636.5" stroke="#cdbcc4" stroke-width="1.3" stroke-linecap="round"/>
<circle cx="83.0" cy="636.5" r="1.4" fill="#dba0a4"/>
<path d="M76.4,601.8 L74.4,598.8" stroke="#cdbcc4" stroke-width="1.3" stroke-linecap="round"/>
<circle cx="74.4" cy="598.8" r="1.4" fill="#dba0a4"/>
<path d="M102.7,620.0 L106.2,620.8" stroke="#cdbcc4" stroke-width="1.3" stroke-linecap="round"/>
<circle cx="106.2" cy="620.8" r="1.4" fill="#dba0a4"/>
<path d="M71.0,624.3 L67.8,626.1" stroke="#cdbcc4" stroke-width="1.3" stroke-linecap="round"/>
<circle cx="67.8" cy="626.1" r="1.4" fill="#dba0a4"/>
<path d="M91.4,599.7 L92.6,596.3" stroke="#cdbcc4" stroke-width="1.3" stroke-linecap="round"/>
<circle cx="92.6" cy="596.3" r="1.4" fill="#dba0a4"/>
<path d="M93.0,631.7 L94.5,635.0" stroke="#cdbcc4" stroke-width="1.2" stroke-linecap="round"/>
<circle cx="94.5" cy="635.0" r="1.4" fill="#dba0a4"/>
<path d="M70.2,609.2 L66.9,607.7" stroke="#cdbcc4" stroke-width="1.2" stroke-linecap="round"/>
<circle cx="66.9" cy="607.7" r="1.4" fill="#dba0a4"/>
<path d="M102.3,610.4 L105.7,609.2" stroke="#cdbcc4" stroke-width="1.2" stroke-linecap="round"/>
<circle cx="105.7" cy="609.2" r="1.4" fill="#dba0a4"/>
</g>
<g opacity="0.82">
<circle cx="109.6" cy="711" r="16.9" fill="#ead9dd" opacity="0.55"/>
<circle cx="109.6" cy="711" r="14.6" fill="url(#vg1)"/>
<circle cx="114.3" cy="713.7" r="1.5" fill="#dba0a4"/>
<circle cx="110.7" cy="718.8" r="1.5" fill="#dba0a4"/>
<circle cx="118.7" cy="710.5" r="1.5" fill="#dba0a4"/>
<path d="M115.3,717.7 L116.5,719.1" stroke="#cdbcc4" stroke-width="1.3" stroke-linecap="round"/>
<circle cx="116.5" cy="719.1" r="1.5" fill="#dba0a4"/>
<path d="M100.5,709.9 L98.6,709.6" stroke="#cdbcc4" stroke-width="1.3" stroke-linecap="round"/>
<circle cx="98.6" cy="709.6" r="1.5" fill="#dba0a4"/>
<path d="M117.3,705.5 L119.0,704.4" stroke="#cdbcc4" stroke-width="1.3" stroke-linecap="round"/>
<circle cx="119.0" cy="704.4" r="1.5" fill="#dba0a4"/>
<path d="M107.5,720.6 L107.1,722.6" stroke="#cdbcc4" stroke-width="1.3" stroke-linecap="round"/>
<circle cx="107.1" cy="722.6" r="1.5" fill="#dba0a4"/>
<path d="M104.5,702.3 L103.4,700.4" stroke="#cdbcc4" stroke-width="1.3" stroke-linecap="round"/>
<circle cx="103.4" cy="700.4" r="1.5" fill="#dba0a4"/>
<path d="M119.5,714.1 L121.6,714.7" stroke="#cdbcc4" stroke-width="1.3" stroke-linecap="round"/>
<circle cx="121.6" cy="714.7" r="1.5" fill="#dba0a4"/>
<path d="M100.0,715.5 L97.9,716.5" stroke="#cdbcc4" stroke-width="1.3" stroke-linecap="round"/>
<circle cx="97.9" cy="716.5" r="1.4" fill="#dba0a4"/>
<path d="M113.7,700.9 L114.6,698.8" stroke="#cdbcc4" stroke-width="1.3" stroke-linecap="round"/>
<circle cx="114.6" cy="698.8" r="1.4" fill="#dba0a4"/>
<path d="M113.5,721.4 L114.3,723.7" stroke="#cdbcc4" stroke-width="1.3" stroke-linecap="round"/>
<circle cx="114.3" cy="723.7" r="1.4" fill="#dba0a4"/>
<path d="M99.5,705.8 L97.3,704.7" stroke="#cdbcc4" stroke-width="1.3" stroke-linecap="round"/>
<circle cx="97.3" cy="704.7" r="1.4" fill="#dba0a4"/>
<path d="M120.8,708.0 L123.2,707.3" stroke="#cdbcc4" stroke-width="1.3" stroke-linecap="round"/>
<circle cx="123.2" cy="707.3" r="1.4" fill="#dba0a4"/>
<path d="M103.3,721.0 L102.0,723.1" stroke="#cdbcc4" stroke-width="1.3" stroke-linecap="round"/>
<circle cx="102.0" cy="723.1" r="1.4" fill="#dba0a4"/>
<path d="M107.5,699.2 L107.0,696.7" stroke="#cdbcc4" stroke-width="1.3" stroke-linecap="round"/>
<circle cx="107.0" cy="696.7" r="1.4" fill="#dba0a4"/>
<path d="M119.3,718.4 L121.4,719.9" stroke="#cdbcc4" stroke-width="1.3" stroke-linecap="round"/>
<circle cx="121.4" cy="719.9" r="1.4" fill="#dba0a4"/>
<path d="M97.3,712.1 L94.7,712.4" stroke="#cdbcc4" stroke-width="1.3" stroke-linecap="round"/>
<circle cx="94.7" cy="712.4" r="1.4" fill="#dba0a4"/>
<path d="M118.0,701.7 L119.8,699.8" stroke="#cdbcc4" stroke-width="1.2" stroke-linecap="round"/>
<circle cx="119.8" cy="699.8" r="1.4" fill="#dba0a4"/>
<path d="M109.6,723.7 L109.7,726.4" stroke="#cdbcc4" stroke-width="1.2" stroke-linecap="round"/>
<circle cx="109.7" cy="726.4" r="1.4" fill="#dba0a4"/>
<path d="M100.9,701.6 L99.0,699.6" stroke="#cdbcc4" stroke-width="1.2" stroke-linecap="round"/>
<circle cx="99.0" cy="699.6" r="1.4" fill="#dba0a4"/>
<path d="M122.5,712.1 L125.3,712.3" stroke="#cdbcc4" stroke-width="1.2" stroke-linecap="round"/>
<circle cx="125.3" cy="712.3" r="1.4" fill="#dba0a4"/>
<path d="M99.2,719.0 L97.0,720.7" stroke="#cdbcc4" stroke-width="1.2" stroke-linecap="round"/>
<circle cx="97.0" cy="720.7" r="1.4" fill="#dba0a4"/>
<path d="M111.9,697.9 L112.3,695.2" stroke="#cdbcc4" stroke-width="1.2" stroke-linecap="round"/>
<circle cx="112.3" cy="695.2" r="1.4" fill="#dba0a4"/>
<path d="M116.8,722.3 L118.4,724.7" stroke="#cdbcc4" stroke-width="1.2" stroke-linecap="round"/>
<circle cx="118.4" cy="724.7" r="1.3" fill="#dba0a4"/>
<path d="M96.6,707.5 L93.8,706.8" stroke="#cdbcc4" stroke-width="1.2" stroke-linecap="round"/>
<circle cx="93.8" cy="706.8" r="1.3" fill="#dba0a4"/>
<path d="M121.7,704.7 L124.2,703.3" stroke="#cdbcc4" stroke-width="1.2" stroke-linecap="round"/>
<circle cx="124.2" cy="703.3" r="1.3" fill="#dba0a4"/>
<path d="M104.9,723.9 L104.0,726.6" stroke="#cdbcc4" stroke-width="1.2" stroke-linecap="round"/>
<circle cx="104.0" cy="726.6" r="1.3" fill="#dba0a4"/>
<path d="M104.3,698.3 L103.2,695.5" stroke="#cdbcc4" stroke-width="1.2" stroke-linecap="round"/>
<circle cx="103.2" cy="695.5" r="1.3" fill="#dba0a4"/>
<path d="M122.2,716.8 L124.9,718.1" stroke="#cdbcc4" stroke-width="1.2" stroke-linecap="round"/>
<circle cx="124.9" cy="718.1" r="1.3" fill="#dba0a4"/>
<path d="M96.3,715.2 L93.4,716.1" stroke="#cdbcc4" stroke-width="1.2" stroke-linecap="round"/>
<circle cx="93.4" cy="716.1" r="1.3" fill="#dba0a4"/>
<path d="M116.6,698.8 L118.1,696.2" stroke="#cdbcc4" stroke-width="1.2" stroke-linecap="round"/>
<circle cx="118.1" cy="696.2" r="1.3" fill="#dba0a4"/>
<path d="M112.7,724.8 L113.3,727.7" stroke="#cdbcc4" stroke-width="1.2" stroke-linecap="round"/>
<circle cx="113.3" cy="727.7" r="1.3" fill="#dba0a4"/>
<path d="M98.0,702.9 L95.5,701.1" stroke="#cdbcc4" stroke-width="1.2" stroke-linecap="round"/>
<circle cx="95.5" cy="701.1" r="1.3" fill="#dba0a4"/>
<path d="M123.7,709.1 L126.7,708.7" stroke="#cdbcc4" stroke-width="1.2" stroke-linecap="round"/>
<circle cx="126.7" cy="708.7" r="1.3" fill="#dba0a4"/>
<path d="M100.4,722.0 L98.5,724.3" stroke="#cdbcc4" stroke-width="1.1" stroke-linecap="round"/>
<circle cx="98.5" cy="724.3" r="1.3" fill="#dba0a4"/>
<path d="M109.0,696.7 L108.8,693.6" stroke="#cdbcc4" stroke-width="1.1" stroke-linecap="round"/>
<circle cx="108.8" cy="693.6" r="1.3" fill="#dba0a4"/>
<path d="M119.8,721.2 L122.0,723.3" stroke="#cdbcc4" stroke-width="1.1" stroke-linecap="round"/>
<circle cx="122.0" cy="723.3" r="1.3" fill="#dba0a4"/>
<path d="M95.2,710.4 L92.1,710.3" stroke="#cdbcc4" stroke-width="1.1" stroke-linecap="round"/>
<circle cx="92.1" cy="710.3" r="1.3" fill="#dba0a4"/>
<path d="M120.7,701.7 L123.0,699.7" stroke="#cdbcc4" stroke-width="1.1" stroke-linecap="round"/>
<circle cx="123.0" cy="699.7" r="1.2" fill="#dba0a4"/>
<path d="M107.7,725.4 L107.3,728.4" stroke="#cdbcc4" stroke-width="1.1" stroke-linecap="round"/>
<circle cx="107.3" cy="728.4" r="1.2" fill="#dba0a4"/>
<path d="M101.3,699.1 L99.5,696.6" stroke="#cdbcc4" stroke-width="1.1" stroke-linecap="round"/>
<circle cx="99.5" cy="696.6" r="1.2" fill="#dba0a4"/>
<path d="M123.8,714.1 L126.8,714.8" stroke="#cdbcc4" stroke-width="1.1" stroke-linecap="round"/>
<circle cx="126.8" cy="714.8" r="1.2" fill="#dba0a4"/>
<path d="M97.0,718.3 L94.3,719.8" stroke="#cdbcc4" stroke-width="1.1" stroke-linecap="round"/>
<circle cx="94.3" cy="719.8" r="1.2" fill="#dba0a4"/>
<path d="M114.0,697.1 L114.9,694.2" stroke="#cdbcc4" stroke-width="1.1" stroke-linecap="round"/>
<circle cx="114.9" cy="694.2" r="1.2" fill="#dba0a4"/>
</g>
<g opacity="0.7">
<circle cx="107" cy="576.7" r="8.3" fill="#ead9dd" opacity="0.55"/>
<circle cx="107" cy="576.7" r="7.1" fill="url(#vg1)"/>
<circle cx="108.6" cy="576.7" r="1.0" fill="#d9b3ba"/>
<circle cx="105.0" cy="578.5" r="1.0" fill="#d9b3ba"/>
<circle cx="107.3" cy="573.3" r="1.0" fill="#d9b3ba"/>
<circle cx="109.5" cy="579.9" r="1.0" fill="#d9b3ba"/>
<circle cx="102.5" cy="575.9" r="0.9" fill="#d9b3ba"/>
<path d="M110.5,574.5 L111.2,574.0" stroke="#cdbcc4" stroke-width="0.8" stroke-linecap="round"/>
<circle cx="111.2" cy="574.0" r="0.9" fill="#d9b3ba"/>
<path d="M105.9,581.0 L105.6,581.9" stroke="#cdbcc4" stroke-width="0.8" stroke-linecap="round"/>
<circle cx="105.6" cy="581.9" r="0.9" fill="#d9b3ba"/>
<path d="M104.8,572.5 L104.4,571.6" stroke="#cdbcc4" stroke-width="0.8" stroke-linecap="round"/>
<circle cx="104.4" cy="571.6" r="0.9" fill="#d9b3ba"/>
<path d="M111.7,578.4 L112.7,578.8" stroke="#cdbcc4" stroke-width="0.8" stroke-linecap="round"/>
<circle cx="112.7" cy="578.8" r="0.9" fill="#d9b3ba"/>
<path d="M102.2,578.7 L101.2,579.1" stroke="#cdbcc4" stroke-width="0.8" stroke-linecap="round"/>
<circle cx="101.2" cy="579.1" r="0.9" fill="#d9b3ba"/>
<path d="M109.3,571.8 L109.8,570.8" stroke="#cdbcc4" stroke-width="0.8" stroke-linecap="round"/>
<circle cx="109.8" cy="570.8" r="0.9" fill="#d9b3ba"/>
<path d="M108.7,582.0 L109.0,583.2" stroke="#cdbcc4" stroke-width="0.8" stroke-linecap="round"/>
<circle cx="109.0" cy="583.2" r="0.9" fill="#d9b3ba"/>
<path d="M102.0,573.8 L100.9,573.2" stroke="#cdbcc4" stroke-width="0.8" stroke-linecap="round"/>
<circle cx="100.9" cy="573.2" r="0.9" fill="#d9b3ba"/>
<path d="M112.8,575.4 L114.0,575.2" stroke="#cdbcc4" stroke-width="0.8" stroke-linecap="round"/>
<circle cx="114.0" cy="575.2" r="0.9" fill="#d9b3ba"/>
<path d="M103.5,581.7 L102.7,582.7" stroke="#cdbcc4" stroke-width="0.8" stroke-linecap="round"/>
<circle cx="102.7" cy="582.7" r="0.9" fill="#d9b3ba"/>
<path d="M106.2,570.5 L106.0,569.2" stroke="#cdbcc4" stroke-width="0.8" stroke-linecap="round"/>
<circle cx="106.0" cy="569.2" r="0.9" fill="#d9b3ba"/>
<path d="M111.9,580.8 L112.9,581.7" stroke="#cdbcc4" stroke-width="0.8" stroke-linecap="round"/>
<circle cx="112.9" cy="581.7" r="0.9" fill="#d9b3ba"/>
<path d="M100.5,577.0 L99.2,577.0" stroke="#cdbcc4" stroke-width="0.8" stroke-linecap="round"/>
<circle cx="99.2" cy="577.0" r="0.8" fill="#d9b3ba"/>
<path d="M111.7,572.1 L112.7,571.1" stroke="#cdbcc4" stroke-width="0.8" stroke-linecap="round"/>
<circle cx="112.7" cy="571.1" r="0.8" fill="#d9b3ba"/>
<path d="M106.7,583.4 L106.6,584.8" stroke="#cdbcc4" stroke-width="0.8" stroke-linecap="round"/>
<circle cx="106.6" cy="584.8" r="0.8" fill="#d9b3ba"/>
<path d="M102.7,571.5 L101.8,570.4" stroke="#cdbcc4" stroke-width="0.7" stroke-linecap="round"/>
<circle cx="101.8" cy="570.4" r="0.8" fill="#d9b3ba"/>
<path d="M113.8,577.6 L115.2,577.8" stroke="#cdbcc4" stroke-width="0.7" stroke-linecap="round"/>
<circle cx="115.2" cy="577.8" r="0.8" fill="#d9b3ba"/>
<path d="M101.3,580.6 L100.1,581.5" stroke="#cdbcc4" stroke-width="0.7" stroke-linecap="round"/>
<circle cx="100.1" cy="581.5" r="0.8" fill="#d9b3ba"/>
<path d="M108.5,569.9 L108.8,568.5" stroke="#cdbcc4" stroke-width="0.7" stroke-linecap="round"/>
<circle cx="108.8" cy="568.5" r="0.8" fill="#d9b3ba"/>
<path d="M110.5,582.8 L111.2,584.1" stroke="#cdbcc4" stroke-width="0.7" stroke-linecap="round"/>
<circle cx="111.2" cy="584.1" r="0.8" fill="#d9b3ba"/>
<path d="M100.3,574.6 L98.9,574.1" stroke="#cdbcc4" stroke-width="0.7" stroke-linecap="round"/>
<circle cx="98.9" cy="574.1" r="0.8" fill="#d9b3ba"/>
<path d="M113.4,573.7 L114.8,573.1" stroke="#cdbcc4" stroke-width="0.7" stroke-linecap="round"/>
<circle cx="114.8" cy="573.1" r="0.8" fill="#d9b3ba"/>
<path d="M104.3,583.2 L103.7,584.6" stroke="#cdbcc4" stroke-width="0.7" stroke-linecap="round"/>
<circle cx="103.7" cy="584.6" r="0.8" fill="#d9b3ba"/>
<path d="M104.6,570.0 L104.1,568.6" stroke="#cdbcc4" stroke-width="0.7" stroke-linecap="round"/>
<circle cx="104.1" cy="568.6" r="0.8" fill="#d9b3ba"/>
<path d="M113.3,580.0 L114.6,580.7" stroke="#cdbcc4" stroke-width="0.7" stroke-linecap="round"/>
<circle cx="114.6" cy="580.7" r="0.8" fill="#d9b3ba"/>
</g>
<g opacity="0.72">
<circle cx="118" cy="662.7" r="9.9" fill="#ead9dd" opacity="0.55"/>
<circle cx="118" cy="662.7" r="8.5" fill="url(#vg1)"/>
<circle cx="115.8" cy="664.7" r="1.2" fill="#d9aab1"/>
<circle cx="118.3" cy="658.8" r="1.1" fill="#d9aab1"/>
<circle cx="120.8" cy="666.3" r="1.1" fill="#d9aab1"/>
<circle cx="113.0" cy="661.8" r="1.1" fill="#d9aab1"/>
<circle cx="122.7" cy="659.7" r="1.1" fill="#d9aab1"/>
<path d="M116.7,667.5 L116.4,668.5" stroke="#cdbcc4" stroke-width="1.0" stroke-linecap="round"/>
<circle cx="116.4" cy="668.5" r="1.1" fill="#d9aab1"/>
<path d="M115.6,658.0 L115.0,657.0" stroke="#cdbcc4" stroke-width="1.0" stroke-linecap="round"/>
<circle cx="115.0" cy="657.0" r="1.1" fill="#d9aab1"/>
<path d="M123.3,664.6 L124.4,665.0" stroke="#cdbcc4" stroke-width="1.0" stroke-linecap="round"/>
<circle cx="124.4" cy="665.0" r="1.1" fill="#d9aab1"/>
<path d="M112.6,664.9 L111.4,665.4" stroke="#cdbcc4" stroke-width="1.0" stroke-linecap="round"/>
<circle cx="111.4" cy="665.4" r="1.1" fill="#d9aab1"/>
<path d="M120.6,657.1 L121.1,656.0" stroke="#cdbcc4" stroke-width="1.0" stroke-linecap="round"/>
<circle cx="121.1" cy="656.0" r="1.1" fill="#d9aab1"/>
<path d="M119.9,668.8 L120.3,670.1" stroke="#cdbcc4" stroke-width="1.0" stroke-linecap="round"/>
<circle cx="120.3" cy="670.1" r="1.1" fill="#d9aab1"/>
<path d="M112.3,659.4 L111.1,658.7" stroke="#cdbcc4" stroke-width="1.0" stroke-linecap="round"/>
<circle cx="111.1" cy="658.7" r="1.1" fill="#d9aab1"/>
<path d="M124.6,661.2 L126.0,660.9" stroke="#cdbcc4" stroke-width="1.0" stroke-linecap="round"/>
<circle cx="126.0" cy="660.9" r="1.1" fill="#d9aab1"/>
<path d="M114.0,668.4 L113.2,669.6" stroke="#cdbcc4" stroke-width="0.9" stroke-linecap="round"/>
<circle cx="113.2" cy="669.6" r="1.1" fill="#d9aab1"/>
<path d="M117.1,655.6 L116.9,654.1" stroke="#cdbcc4" stroke-width="0.9" stroke-linecap="round"/>
<circle cx="116.9" cy="654.1" r="1.0" fill="#d9aab1"/>
<path d="M123.6,667.4 L124.7,668.4" stroke="#cdbcc4" stroke-width="0.9" stroke-linecap="round"/>
<circle cx="124.7" cy="668.4" r="1.0" fill="#d9aab1"/>
<path d="M110.6,663.0 L109.0,663.1" stroke="#cdbcc4" stroke-width="0.9" stroke-linecap="round"/>
<circle cx="109.0" cy="663.1" r="1.0" fill="#d9aab1"/>
<path d="M123.3,657.4 L124.5,656.2" stroke="#cdbcc4" stroke-width="0.9" stroke-linecap="round"/>
<circle cx="124.5" cy="656.2" r="1.0" fill="#d9aab1"/>
<path d="M117.6,670.4 L117.6,672.0" stroke="#cdbcc4" stroke-width="0.9" stroke-linecap="round"/>
<circle cx="117.6" cy="672.0" r="1.0" fill="#d9aab1"/>
<path d="M113.0,656.7 L112.0,655.5" stroke="#cdbcc4" stroke-width="0.9" stroke-linecap="round"/>
<circle cx="112.0" cy="655.5" r="1.0" fill="#d9aab1"/>
<path d="M125.8,663.8 L127.5,664.0" stroke="#cdbcc4" stroke-width="0.9" stroke-linecap="round"/>
<circle cx="127.5" cy="664.0" r="1.0" fill="#d9aab1"/>
<path d="M111.4,667.3 L110.1,668.2" stroke="#cdbcc4" stroke-width="0.9" stroke-linecap="round"/>
<circle cx="110.1" cy="668.2" r="1.0" fill="#d9aab1"/>
<path d="M119.8,654.8 L120.1,653.2" stroke="#cdbcc4" stroke-width="0.9" stroke-linecap="round"/>
<circle cx="120.1" cy="653.2" r="1.0" fill="#d9aab1"/>
<path d="M122.0,669.8 L122.9,671.3" stroke="#cdbcc4" stroke-width="0.9" stroke-linecap="round"/>
<circle cx="122.9" cy="671.3" r="1.0" fill="#d9aab1"/>
<path d="M110.2,660.2 L108.5,659.7" stroke="#cdbcc4" stroke-width="0.9" stroke-linecap="round"/>
<circle cx="108.5" cy="659.7" r="1.0" fill="#d9aab1"/>
<path d="M125.5,659.2 L127.1,658.5" stroke="#cdbcc4" stroke-width="0.9" stroke-linecap="round"/>
<circle cx="127.1" cy="658.5" r="1.0" fill="#d9aab1"/>
<path d="M114.8,670.4 L114.1,672.0" stroke="#cdbcc4" stroke-width="0.9" stroke-linecap="round"/>
<circle cx="114.1" cy="672.0" r="1.0" fill="#d9aab1"/>
<path d="M115.2,654.8 L114.6,653.2" stroke="#cdbcc4" stroke-width="0.8" stroke-linecap="round"/>
<circle cx="114.6" cy="653.2" r="0.9" fill="#d9aab1"/>
<path d="M125.4,666.6 L127.0,667.4" stroke="#cdbcc4" stroke-width="0.8" stroke-linecap="round"/>
<circle cx="127.0" cy="667.4" r="0.9" fill="#d9aab1"/>
<path d="M109.8,664.8 L108.1,665.3" stroke="#cdbcc4" stroke-width="0.8" stroke-linecap="round"/>
<circle cx="108.1" cy="665.3" r="0.9" fill="#d9aab1"/>
<path d="M122.6,655.6 L123.5,654.1" stroke="#cdbcc4" stroke-width="0.8" stroke-linecap="round"/>
<circle cx="123.5" cy="654.1" r="0.9" fill="#d9aab1"/>
<path d="M119.4,671.0 L119.7,672.8" stroke="#cdbcc4" stroke-width="0.8" stroke-linecap="round"/>
<circle cx="119.7" cy="672.8" r="0.9" fill="#d9aab1"/>
<path d="M111.3,657.5 L109.9,656.4" stroke="#cdbcc4" stroke-width="0.8" stroke-linecap="round"/>
<circle cx="109.9" cy="656.4" r="0.9" fill="#d9aab1"/>
</g>
</g>
<g id="logo">
<clipPath id="lc1"><ellipse cx="130" cy="60.1" rx="19.8" ry="21.4"/></clipPath>
<clipPath id="lc2"><ellipse cx="129.4" cy="59.6" rx="10.8" ry="11.9"/></clipPath>
<ellipse cx="130" cy="60.1" rx="19.8" ry="21.4" fill="url(#lg1)"/>
<ellipse cx="129.9" cy="60" rx="14.5" ry="15.9" fill="none" stroke="#fff" stroke-width="4"/>
<path d="M133 63.7 L146.5 80.4 L135 88 L135 64 Z" fill="#0d1d47" clip-path="url(#lc1)"/>
<ellipse cx="129.4" cy="59.6" rx="10.8" ry="11.9" fill="url(#lg2)"/>
<rect x="134.9" y="45" width="8" height="30" fill="#0e2152" opacity="0.82" clip-path="url(#lc2)"/>
<rect x="128.9" y="44.5" width="1.7" height="35.5" fill="#14264f"/>
<rect x="130.5" y="43.8" width="4.5" height="37.6" fill="#fff"/>
</g>
<text y="98.8" font-size="15" font-weight="bold" fill="#14274a" stroke="#14274a" stroke-width="0.5"><tspan x="38.12" textLength="84.31" lengthAdjust="spacingAndGlyphs">CHARTA</tspan> <tspan x="127.26" textLength="93.81" lengthAdjust="spacingAndGlyphs">POLITIKA</tspan></text>
<text y="109.8" font-size="8.8" fill="#5a6783" stroke="#5a6783" stroke-width="0.3" text-anchor="middle" x="39.2 58.3 80.4 103.6 126.7 149.5 172.6 195.4 217.5">INDONESIA</text>
<text y="88.4" font-size="28.6" font-weight="bold" fill="#000"><tspan x="254.67" textLength="168.96" lengthAdjust="spacingAndGlyphs">Elektabilitas</tspan> <tspan x="430.99" textLength="87.75" lengthAdjust="spacingAndGlyphs">Tokoh</tspan> <tspan x="526.03" textLength="124.56" lengthAdjust="spacingAndGlyphs">(Simulasi</tspan> <tspan x="658.19" textLength="32.91" lengthAdjust="spacingAndGlyphs">10</tspan> <tspan x="699.09" textLength="94.43" lengthAdjust="spacingAndGlyphs">Nama)</tspan></text>
<text y="148.5" font-size="16.5" font-style="italic" fill="#111" class="t"><tspan x="90.0" textLength="30.11" lengthAdjust="spacingAndGlyphs">Jika</tspan> <tspan x="126.76" textLength="72.63" lengthAdjust="spacingAndGlyphs">pemilihan</tspan> <tspan x="206.26" textLength="65.06" lengthAdjust="spacingAndGlyphs">presiden</tspan> <tspan x="278.24" textLength="68.77" lengthAdjust="spacingAndGlyphs">diadakan</tspan> <tspan x="353.75" textLength="74.52" lengthAdjust="spacingAndGlyphs">sekarang,</tspan> <tspan x="433.75" textLength="38.94" lengthAdjust="spacingAndGlyphs">siapa</tspan> <tspan x="480.5" textLength="35.78" lengthAdjust="spacingAndGlyphs">yang</tspan> <tspan x="522.75" textLength="36.04" lengthAdjust="spacingAndGlyphs">akan</tspan> <tspan x="564.96" textLength="152.11" lengthAdjust="spacingAndGlyphs">Bapak/Ibu/Saudara</tspan> <tspan x="724.27" textLength="30.62" lengthAdjust="spacingAndGlyphs">pilih</tspan> <tspan x="761.25" textLength="57.81" lengthAdjust="spacingAndGlyphs">sebagai</tspan> <tspan x="826.5" textLength="64.62" lengthAdjust="spacingAndGlyphs">Presiden</tspan> <tspan x="897.03" textLength="12.09" lengthAdjust="spacingAndGlyphs">di</tspan></text>
<text y="171.1" font-size="16.5" font-style="italic" fill="#111" class="t"><tspan x="90.99" textLength="49.09" lengthAdjust="spacingAndGlyphs">antara</tspan> <tspan x="147.74" textLength="92.84" lengthAdjust="spacingAndGlyphs">nama-nama</tspan> <tspan x="247.74" textLength="51.77" lengthAdjust="spacingAndGlyphs">berikut</tspan> <tspan x="308.49" textLength="26.44" lengthAdjust="spacingAndGlyphs">ini?</tspan></text>
<rect x="399.85" y="216.3" width="1" height="305.6" fill="#e0e0e0"/>
<rect x="400.75" y="222.34" width="359.68" height="15.7" fill="#08acee"/>
<text y="235.89" font-size="16.5" fill="#1a1a1a" class="t"><tspan x="255.65" textLength="49.63" lengthAdjust="spacingAndGlyphs">Ganjar</tspan> <tspan x="311.13" textLength="71.3" lengthAdjust="spacingAndGlyphs">Pranowo</tspan></text>
<text x="767.33" y="237.29" font-size="16.5" fill="#111" textLength="33.6" lengthAdjust="spacingAndGlyphs" class="t">20.6</text>
<rect x="400.75" y="250.12" width="310.79" height="15.7" fill="#08acee"/>
<text y="263.67" font-size="16.5" fill="#1a1a1a" class="t"><tspan x="240.5" textLength="42.55" lengthAdjust="spacingAndGlyphs">Anies</tspan> <tspan x="287.07" textLength="10.76" lengthAdjust="spacingAndGlyphs">R</tspan> <tspan x="302.19" textLength="80.67" lengthAdjust="spacingAndGlyphs">Baswedan</tspan></text>
<text x="718.44" y="265.07" font-size="16.5" fill="#111" textLength="33.6" lengthAdjust="spacingAndGlyphs" class="t">17.8</text>
<rect x="400.75" y="277.90" width="305.55" height="15.7" fill="#08acee"/>
<text y="291.45" font-size="16.5" fill="#1a1a1a" class="t"><tspan x="237.42" textLength="69.5" lengthAdjust="spacingAndGlyphs">Prabowo</tspan> <tspan x="312.19" textLength="70.25" lengthAdjust="spacingAndGlyphs">Subianto</tspan></text>
<text x="713.2" y="292.85" font-size="16.5" fill="#111" textLength="33.6" lengthAdjust="spacingAndGlyphs" class="t">17.5</text>
<rect x="400.75" y="305.68" width="134.44" height="15.7" fill="#08acee"/>
<text y="319.23" font-size="16.5" fill="#1a1a1a" class="t"><tspan x="261.26" textLength="68.72" lengthAdjust="spacingAndGlyphs">Sandiaga</tspan> <tspan x="336.34" textLength="9.62" lengthAdjust="spacingAndGlyphs">S</tspan> <tspan x="350.16" textLength="32.43" lengthAdjust="spacingAndGlyphs">Uno</tspan></text>
<text x="542.09" y="320.63" font-size="16.5" fill="#111" textLength="24.0" lengthAdjust="spacingAndGlyphs" class="t">7.7</text>
<rect x="400.75" y="333.46" width="125.71" height="15.7" fill="#08acee"/>
<text y="347.01" font-size="16.5" fill="#1a1a1a" class="t"><tspan x="276.2" textLength="57.38" lengthAdjust="spacingAndGlyphs">Ridwan</tspan> <tspan x="338.46" textLength="44.39" lengthAdjust="spacingAndGlyphs">Kamil</tspan></text>
<text x="533.36" y="348.41" font-size="16.5" fill="#111" textLength="24.0" lengthAdjust="spacingAndGlyphs" class="t">7.2</text>
<rect x="400.75" y="361.24" width="73.33" height="15.7" fill="#08acee"/>
<text y="374.79" font-size="16.5" fill="#1a1a1a" class="t"><tspan x="171.25" textLength="38.12" lengthAdjust="spacingAndGlyphs">Agus</tspan> <tspan x="213.38" textLength="76.21" lengthAdjust="spacingAndGlyphs">Harimurti</tspan> <tspan x="293.21" textLength="89.18" lengthAdjust="spacingAndGlyphs">Yudhoyono</tspan></text>
<text x="480.98" y="376.19" font-size="16.5" fill="#111" textLength="24.0" lengthAdjust="spacingAndGlyphs" class="t">4.2</text>
<rect x="400.75" y="389.02" width="62.86" height="15.7" fill="#08acee"/>
<text y="402.57" font-size="16.5" fill="#1a1a1a" class="t"><tspan x="266.0" textLength="18.91" lengthAdjust="spacingAndGlyphs">Tri</tspan> <tspan x="289.92" textLength="93.02" lengthAdjust="spacingAndGlyphs">Rismaharini</tspan></text>
<text x="470.51" y="403.97" font-size="16.5" fill="#111" textLength="24.0" lengthAdjust="spacingAndGlyphs" class="t">3.6</text>
<rect x="400.75" y="416.80" width="31.43" height="15.7" fill="#08acee"/>
<text y="430.35" font-size="16.5" fill="#1a1a1a" class="t"><tspan x="289.27" textLength="35.95" lengthAdjust="spacingAndGlyphs">Erick</tspan> <tspan x="332.23" textLength="49.82" lengthAdjust="spacingAndGlyphs">Thohir</tspan></text>
<text x="439.08" y="431.75" font-size="16.5" fill="#111" textLength="24.0" lengthAdjust="spacingAndGlyphs" class="t">1.8</text>
<rect x="400.75" y="444.58" width="24.44" height="15.7" fill="#08acee"/>
<text y="458.13" font-size="16.5" fill="#1a1a1a" class="t"><tspan x="262.41" textLength="41.21" lengthAdjust="spacingAndGlyphs">Puan</tspan> <tspan x="307.63" textLength="75.26" lengthAdjust="spacingAndGlyphs">Maharani</tspan></text>
<text x="432.09" y="459.53" font-size="16.5" fill="#111" textLength="24.0" lengthAdjust="spacingAndGlyphs" class="t">1.4</text>
<rect x="400.75" y="472.36" width="17.46" height="15.7" fill="#08acee"/>
<text y="485.91" font-size="16.5" fill="#1a1a1a" class="t"><tspan x="237.5" textLength="72.47" lengthAdjust="spacingAndGlyphs">Airlangga</tspan> <tspan x="315.09" textLength="67.35" lengthAdjust="spacingAndGlyphs">Hartarto</tspan></text>
<text x="425.11" y="487.31" font-size="16.5" fill="#111" textLength="24.0" lengthAdjust="spacingAndGlyphs" class="t">1.0</text>
<rect x="400.75" y="500.14" width="300.31" height="15.7" fill="#08acee"/>
<text y="513.69" font-size="16.5" fill="#1a1a1a" class="t"><tspan x="341.76" textLength="41.26" lengthAdjust="spacingAndGlyphs">TT/TJ</tspan></text>
<text x="707.96" y="515.09" font-size="16.5" fill="#111" textLength="33.6" lengthAdjust="spacingAndGlyphs" class="t">17.2</text>
<text x="400.45" y="553.5" font-size="16.5" text-anchor="middle" fill="#111" class="t">0</text>
<text x="487.75" y="553.5" font-size="16.5" text-anchor="middle" fill="#111" class="t">5</text>
<text x="575.05" y="553.5" font-size="16.5" text-anchor="middle" fill="#111" class="t">10</text>
<text x="662.35" y="553.5" font-size="16.5" text-anchor="middle" fill="#111" class="t">15</text>
<text x="749.65" y="553.5" font-size="16.5" text-anchor="middle" fill="#111" class="t">20</text>
<text x="836.95" y="553.5" font-size="16.5" text-anchor="middle" fill="#111" class="t">25</text>
<text y="598.7" font-size="16.5" fill="#111" class="t"><tspan x="104.26" textLength="38.29" lengthAdjust="spacingAndGlyphs">Pada</tspan> <tspan x="148.22" textLength="62.95" lengthAdjust="spacingAndGlyphs">simulasi</tspan> <tspan x="215.64" textLength="20.03" lengthAdjust="spacingAndGlyphs">10</tspan> <tspan x="240.22" textLength="47.44" lengthAdjust="spacingAndGlyphs">nama,</tspan> <tspan x="291.73" textLength="51.06" lengthAdjust="spacingAndGlyphs">Ganjar</tspan> <tspan x="348.2" textLength="67.96" lengthAdjust="spacingAndGlyphs">Pranowo</tspan> <tspan x="421.46" textLength="60.11" lengthAdjust="spacingAndGlyphs">(20.6%)</tspan> <tspan x="486.91" textLength="79.74" lengthAdjust="spacingAndGlyphs">mendapat</tspan> <tspan x="572.2" textLength="91.56" lengthAdjust="spacingAndGlyphs">elektabilitas</tspan> <tspan x="669.22" textLength="70.5" lengthAdjust="spacingAndGlyphs">tertinggi,</tspan> <tspan x="744.15" textLength="47.69" lengthAdjust="spacingAndGlyphs">diikuti</tspan> <tspan x="795.91" textLength="82.72" lengthAdjust="spacingAndGlyphs">berikutnya</tspan> <tspan x="884.7" textLength="33.32" lengthAdjust="spacingAndGlyphs">oleh</tspan></text>
<text y="621.5" font-size="16.5" fill="#111" class="t"><tspan x="292.5" textLength="41.79" lengthAdjust="spacingAndGlyphs">Anies</tspan> <tspan x="338.74" textLength="77.84" lengthAdjust="spacingAndGlyphs">Baswedan</tspan> <tspan x="421.46" textLength="60.11" lengthAdjust="spacingAndGlyphs">(17.8%)</tspan> <tspan x="487.18" textLength="30.2" lengthAdjust="spacingAndGlyphs">dan</tspan> <tspan x="522.51" textLength="64.35" lengthAdjust="spacingAndGlyphs">Prabowo</tspan> <tspan x="592.94" textLength="70.25" lengthAdjust="spacingAndGlyphs">Subianto</tspan> <tspan x="668.47" textLength="64.45" lengthAdjust="spacingAndGlyphs">(17.5%).</tspan></text>
<text y="688.3" transform="scale(1.1,1)" font-size="16.6" font-weight="bold" fill="#1d2d4b"><tspan x="32.23" style="letter-spacing:0.93px">Survei</tspan> <tspan x="94.45" style="letter-spacing:1.01px">Nasional</tspan> <tspan x="177.64" style="letter-spacing:1.26px">Periode</tspan> <tspan x="253.39" style="letter-spacing:0.77px">Juli</tspan> <tspan x="291.05" style="letter-spacing:-0.18px">2021</tspan></text>
<text x="853.8" y="697.7" font-size="13.4" text-anchor="middle" fill="#8c8c8c">41</text>
</svg>
</body>
</html>
